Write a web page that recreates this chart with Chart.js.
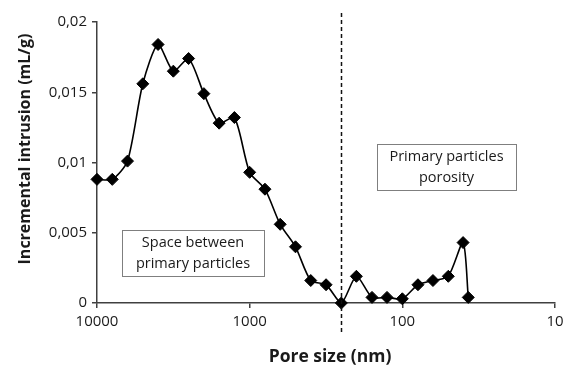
<!DOCTYPE html>
<html>
<head>
<meta charset="utf-8">
<script src="https://cdn.jsdelivr.net/npm/chart.js@4/dist/chart.umd.min.js"></script>
<style>
  html, body { margin: 0; padding: 0; background: #fff; }
  #wrap { width: 575px; height: 366px; }
</style>
</head>
<body>
<div id="wrap"><canvas id="c"></canvas></div>
<script>
// pore size (nm) and incremental intrusion (mL/g)
var poreSize = [10000, 7943, 6310, 5012, 3981, 3162, 2512, 1995, 1585, 1259, 1000, 794, 631,
                501, 398, 316, 251, 200, 158, 126, 100, 79, 63, 50, 40, 37];
var intrusion = [0.0088, 0.0088, 0.0101, 0.0156, 0.0184, 0.0165, 0.0174, 0.0149, 0.0128, 0.0132,
                 0.0093, 0.0081, 0.0056, 0.0040, 0.0016, 0.0013, 0, 0.0019, 0.0004, 0.0004,
                 0.0003, 0.0013, 0.0016, 0.0019, 0.0043, 0.0004];
var xTicks = [10, 100, 1000, 10000];
var boundary = 251; // dashed separator (nm)
var zoneLabels = [
  ['Space between', 'primary particles'],
  ['Primary particles', 'porosity']
];

var FONT = '"Open Sans", Lato, sans-serif';

var points = poreSize.map(function (p, i) { return { x: p, y: intrusion[i] }; });

var extras = {
  id: 'extras',
  afterDraw: function (chart) {
    var ctx = chart.ctx;
    var xs = chart.scales.x;
    var area = chart.chartArea;
    ctx.save();

    // dashed separator
    var bx = Math.round(xs.getPixelForValue(boundary)) + 0.5;
    ctx.strokeStyle = '#111';
    ctx.lineWidth = 1.5;
    ctx.setLineDash([4, 3]);
    ctx.beginPath();
    ctx.moveTo(bx, area.top - 9);
    ctx.lineTo(bx, area.bottom + 30);
    ctx.stroke();
    ctx.setLineDash([]);

    // annotation boxes
    function box(x, y, w, h, lines) {
      ctx.fillStyle = '#fff';
      ctx.fillRect(x, y, w, h);
      ctx.strokeStyle = '#7f7f7f';
      ctx.lineWidth = 1;
      ctx.strokeRect(x + 0.5, y + 0.5, w, h);
      ctx.fillStyle = '#1a1a1a';
      ctx.font = '14.5px ' + FONT;
      ctx.textAlign = 'center';
      ctx.textBaseline = 'middle';
      lines.forEach(function (t, i) {
        ctx.fillText(t, x + w / 2, y + 13 + i * 21);
      });
    }
    box(122, 230, 142, 46, zoneLabels[0]);
    box(377, 144, 139, 46, zoneLabels[1]);

    // axis titles
    ctx.fillStyle = '#1a1a1a';
    ctx.textAlign = 'center';
    ctx.textBaseline = 'middle';
    ctx.font = 'bold 17.5px ' + FONT;
    ctx.fillText('Pore size (nm)', (area.left + area.right) / 2 + 4, 357);
    ctx.font = 'bold 16px ' + FONT;
    ctx.translate(25, 149);
    ctx.rotate(-Math.PI / 2);
    ctx.fillText('Incremental intrusion (mL/g)', 0, 0);
    ctx.restore();
  }
};

new Chart(document.getElementById('c').getContext('2d'), {
  type: 'line',
  data: {
    datasets: [{
      data: points,
      borderColor: '#000',
      borderWidth: 1.6,
      backgroundColor: '#000',
      pointStyle: 'rectRot',
      pointRadius: 6,
      pointBorderWidth: 1,
      pointBorderColor: '#000',
      pointBackgroundColor: '#000',
      tension: 0.25,
      clip: false
    }]
  },
  options: {
    responsive: true,
    maintainAspectRatio: false,
    animation: false,
    events: [],
    layout: { padding: { top: 22, right: 20, left: 0, bottom: 0 } },
    plugins: { legend: { display: false }, tooltip: { enabled: false } },
    scales: {
      x: {
        type: 'logarithmic',
        reverse: true,
        min: 10,
        max: 10000,
        afterBuildTicks: function (s) { s.ticks = xTicks.map(function (v) { return { value: v }; }); },
        afterFit: function (s) { s.height = 63; },
        grid: { drawOnChartArea: false, tickLength: 5, color: '#404040', lineWidth: 1.5 },
        border: { color: '#404040', width: 1.5 },
        ticks: {
          color: '#1a1a1a',
          font: { family: FONT, size: 15 },
          padding: 5,
          maxRotation: 0,
          callback: function (v) { return String(v); }
        }
      },
      y: {
        min: 0,
        max: 0.02,
        afterFit: function (s) { s.width = 97; },
        grid: { drawOnChartArea: false, tickLength: 5, color: '#404040', lineWidth: 1.5 },
        border: { color: '#404040', width: 1.5 },
        ticks: {
          stepSize: 0.005,
          color: '#1a1a1a',
          font: { family: FONT, size: 15 },
          padding: 5,
          callback: function (v) { return String(+v.toFixed(3)).replace('.', ','); }
        }
      }
    }
  },
  plugins: [extras]
});
</script>
</body>
</html>
